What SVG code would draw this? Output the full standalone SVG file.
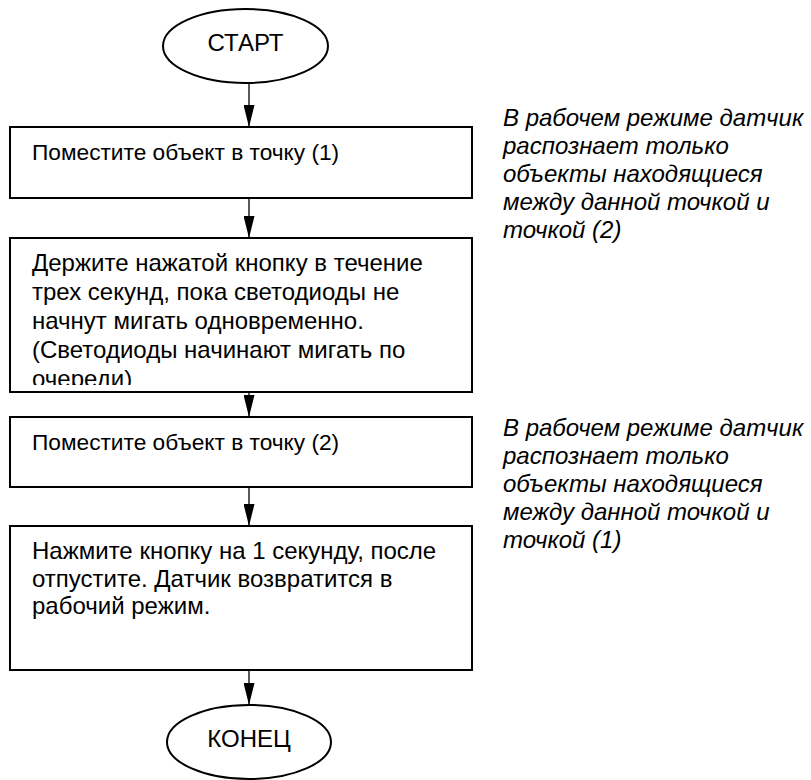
<svg xmlns="http://www.w3.org/2000/svg" width="811" height="780" viewBox="0 0 811 780">
<style>
.shape{fill:#fff;stroke:#000;stroke-width:2}
.t{font-family:"Liberation Sans",Arial,sans-serif;font-size:24px;fill:#000}
.s{font-size:22.7px}
.c{text-anchor:middle}
.note{font-family:"Liberation Sans",Arial,sans-serif;font-size:24px;font-style:italic;fill:#000}
.conn{stroke:#000;stroke-width:1.3;fill:none;marker-end:url(#ah)}
</style>
<defs>
<marker id="ah" viewBox="0 0 22 11" refX="22" refY="5.5" markerWidth="22" markerHeight="11" markerUnits="userSpaceOnUse" orient="auto">
<path d="M0,0 L22,5.5 L0,11 z" fill="#000"/>
</marker>
<clipPath id="clip2"><rect x="10" y="239" width="462" height="146"/></clipPath>
</defs>
<rect width="811" height="780" fill="#fff"/>
<g id="connectors">
<line class="conn" x1="249" y1="83" x2="249" y2="127"/>
<line class="conn" x1="249" y1="198" x2="249" y2="238"/>
<line class="conn" x1="249" y1="392" x2="249" y2="417"/>
<line class="conn" x1="249" y1="487" x2="249" y2="526"/>
<line class="conn" x1="249" y1="670" x2="249" y2="705"/>
</g>
<g id="start">
<ellipse class="shape" cx="245.5" cy="46" rx="82.5" ry="37"/>
<text class="t c" x="245.5" y="51">СТАРТ</text>
</g>
<g id="step1">
<rect class="shape" x="10" y="127" width="462" height="71"/>
<text class="t s" x="32" y="160">Поместите объект в точку (1)</text>
</g>
<g id="step2">
<rect class="shape" x="10" y="238" width="462" height="154"/>
<g clip-path="url(#clip2)">
<text class="t" x="32" y="271">Держите нажатой кнопку в течение</text>
<text class="t" x="32" y="300">трех секунд, пока светодиоды не</text>
<text class="t" x="32" y="329">начнут мигать одновременно.</text>
<text class="t" x="32" y="358">(Светодиоды начинают мигать по</text>
<text class="t" x="32" y="387">очереди)</text>
</g>
</g>
<g id="step3">
<rect class="shape" x="10" y="417" width="462" height="70"/>
<text class="t s" x="32" y="450">Поместите объект в точку (2)</text>
</g>
<g id="step4">
<rect class="shape" x="10" y="526" width="462" height="144"/>
<text class="t" x="32" y="559">Нажмите кнопку на 1 секунду, после</text>
<text class="t" x="32" y="587">отпустите. Датчик возвратится в</text>
<text class="t" x="32" y="614">рабочий режим.</text>
</g>
<g id="end">
<ellipse class="shape" cx="249" cy="742" rx="82" ry="37"/>
<text class="t c" x="249" y="747">КОНЕЦ</text>
</g>
<g id="note1">
<text class="note" x="503" y="126">В рабочем режиме датчик</text>
<text class="note" x="503" y="154">распознает только</text>
<text class="note" x="503" y="182">объекты находящиеся</text>
<text class="note" x="503" y="210">между данной точкой и</text>
<text class="note" x="503" y="238">точкой (2)</text>
</g>
<g id="note2">
<text class="note" x="503" y="436">В рабочем режиме датчик</text>
<text class="note" x="503" y="464">распознает только</text>
<text class="note" x="503" y="492">объекты находящиеся</text>
<text class="note" x="503" y="520">между данной точкой и</text>
<text class="note" x="503" y="548">точкой (1)</text>
</g>
</svg>
